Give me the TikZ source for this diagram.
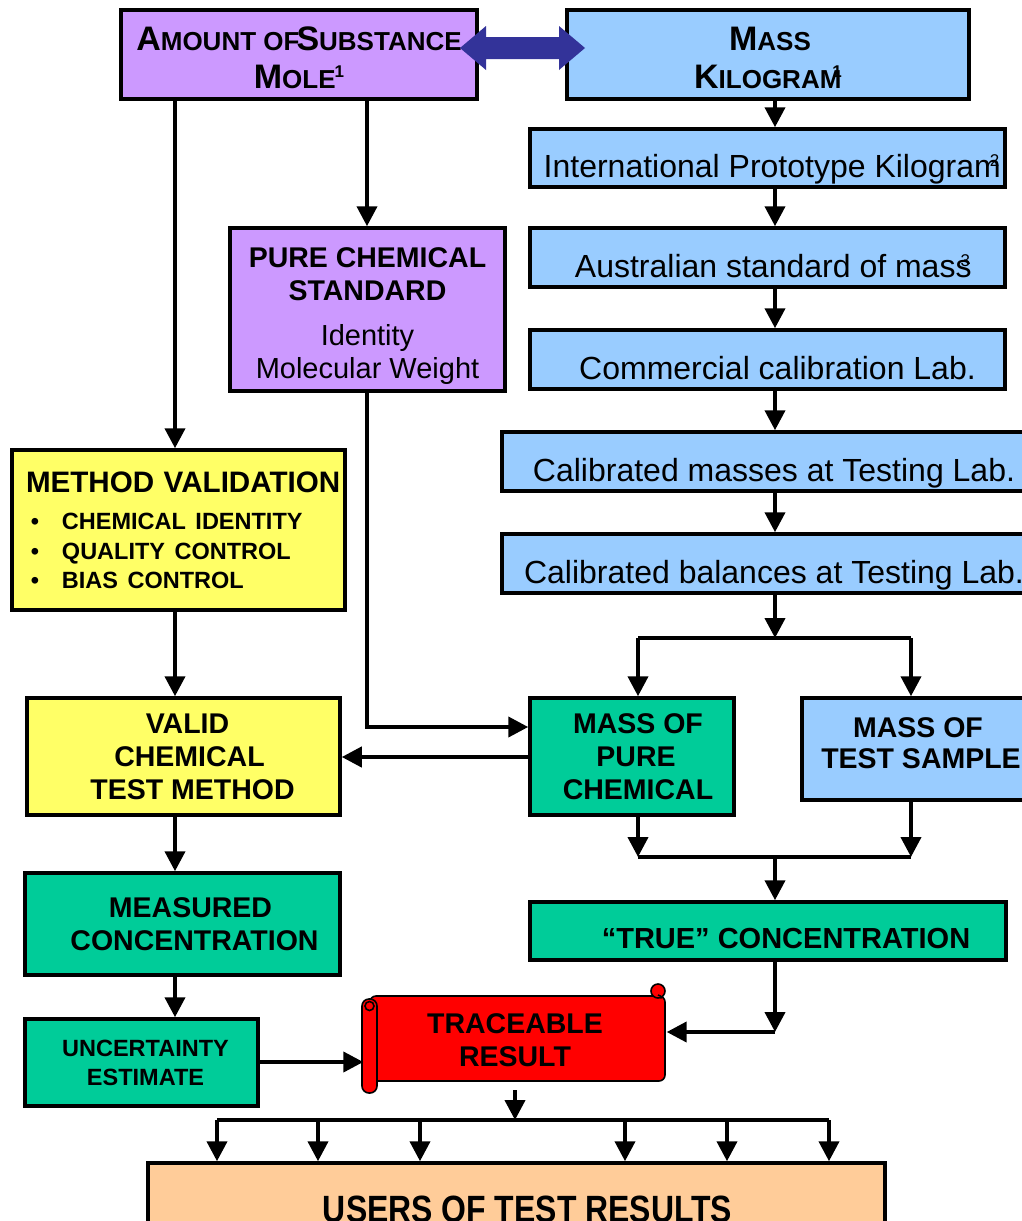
\documentclass[tikz,border=0pt]{standalone}
\usepackage{fontspec}
\setmainfont{Liberation Sans}
\usetikzlibrary{arrows.meta,calc}
\definecolor{purp}{HTML}{CC99FF}
\definecolor{lblue}{HTML}{99CCFF}
\definecolor{yel}{HTML}{FFFF66}
\definecolor{grn}{HTML}{00CC99}
\definecolor{peach}{HTML}{FFCC99}
\definecolor{dblue}{HTML}{333399}
\newcommand\capL[1]{{\fontsize{34}{38}\selectfont #1}}
\newcommand\supn[1]{\raisebox{11pt}{\fontsize{17}{17}\selectfont #1}}
\newcommand\bigbf{\fontsize{28.5}{33}\selectfont\bfseries}
\newcommand\bulbf{\fontsize{23.5}{29.5}\selectfont\bfseries}
\newcommand\regtx{\fontsize{29}{33}\selectfont\mdseries}
\newcommand\bul{\makebox[36pt][l]{\hspace{5pt}\textbullet}}
\begin{document}
\begin{tikzpicture}[x=1pt,y=-1pt,
  box/.style={draw=black, line width=3.5pt, inner sep=0pt, align=center, text=black},
  bfs/.style={font=\bigbf},
  rgs/.style={font=\fontsize{32}{35}\selectfont},
  bline/.style={text height=#1, text depth=0pt},
  arr/.style={line width=4pt, -{Triangle[length=20pt,width=20pt]}},
  ln/.style={line width=4pt}]
\clip (0,0) rectangle (1022,1221);
\fill[white] (0,0) rectangle (1022,1221);

% coordinates for connector lanes
\coordinate (xL) at (175,0);
\coordinate (xM) at (367,0);
\coordinate (xR) at (775,0);
\coordinate (xP) at (638,0);
\coordinate (xS) at (911,0);
\coordinate (yA) at (0,727);
\coordinate (yB) at (0,757);
\coordinate (yF) at (0,638);
\coordinate (yJ) at (0,857);
\coordinate (yT) at (0,1032);
\coordinate (yU) at (0,1062);
\coordinate (yV) at (0,1120);

% boxes
\node[box, fill=purp, minimum width=356pt, minimum height=89pt,
  font=\fontsize{26}{38}\selectfont\bfseries] (amount) at (299,54.5)
  {\rule{0pt}{31pt}\capL{A}MOUNT OF\hspace{-3pt}\capL{S}UBSTANCE\\\capL{M}OLE\hspace{-1pt}\supn{1}};
\node[box, fill=lblue, minimum width=402pt, minimum height=89pt,
  font=\fontsize{26}{38}\selectfont\bfseries] (mass) at (768,54.5)
  {\rule{0pt}{31pt}\hspace*{4pt}\capL{M}ASS\\\capL{K}ILOGRAM\hspace{-9pt}\supn{1}};
\node[box, fill=lblue, rgs, minimum width=475pt, minimum height=58pt, bline=38pt] (ipk) at (767.5,158)
  {\hspace*{8pt}International Prototype Kilogram\hspace{-11pt}\supn{2}};
\node[box, fill=lblue, rgs, minimum width=475pt, minimum height=59pt, bline=39pt] (aus) at (767.5,257.5)
  {\hspace*{10pt}Australian standard of mass\hspace{-11pt}\supn{3}};
\node[box, fill=lblue, rgs, minimum width=475pt, minimum height=59pt, bline=39pt] (comm) at (767.5,359.5)
  {\hspace*{20pt}Commercial calibration Lab.};
\node[box, fill=lblue, rgs, minimum width=544pt, minimum height=59pt, bline=39pt] (calmass) at (774,461.5)
  {Calibrated masses at Testing Lab.};
\node[box, fill=lblue, rgs, minimum width=544pt, minimum height=59pt, bline=39pt] (calbal) at (774,563.5)
  {Calibrated balances at Testing Lab.};

\node[box, fill=purp, bfs, minimum width=275pt, minimum height=163pt] (pure) at (367.5,309.5)
  {\rule{0pt}{34pt}PURE CHEMICAL\\STANDARD\\[12pt]\regtx Identity\\\regtx Molecular Weight};

\node[box, fill=yel, bfs, minimum width=333pt, minimum height=160pt, text width=305pt, align=left] (method) at (178.5,530)
  {\mbox{\fontsize{29.6}{33}\selectfont METHOD VALIDATION}\\[8pt]
   \bulbf\bul CHEMICAL IDENTITY\\
   \bulbf\bul QUALITY CONTROL\\[-4pt]
   \bulbf\bul BIAS CONTROL};

\node[box, fill=yel, bfs, minimum width=313pt, minimum height=117pt] (valid) at (183.5,756.5)
  {\hspace*{8pt}VALID\\\hspace*{12pt}CHEMICAL\\\hspace*{18pt}TEST METHOD};
\node[box, fill=grn, bfs, minimum width=204pt, minimum height=117pt] (masspure) at (632,756.5)
  {\hspace*{12pt}MASS OF\\\hspace*{8pt}PURE\\\hspace*{12pt}CHEMICAL};
\node[box, fill=lblue, minimum width=238pt, minimum height=102pt,
  font=\fontsize{28.5}{31}\selectfont\bfseries] (masstest) at (921,749)
  {\hspace*{-6pt}MASS OF\\TEST SAMPLE\rule[-11pt]{0pt}{11pt}};
\node[box, fill=grn, minimum width=476pt, minimum height=58pt, bline=34pt,
  font=\fontsize{29}{33}\selectfont\bfseries] (true) at (768,931)
  {\hspace*{36pt}“TRUE” CONCENTRATION};
\node[box, fill=grn, bfs, minimum width=315pt, minimum height=102pt] (measured) at (182.5,924)
  {\hspace*{16pt}MEASURED\\\hspace*{24pt}CONCENTRATION};
\node[box, fill=grn, minimum width=233pt, minimum height=87pt,
  font=\fontsize{23.5}{29}\selectfont\bfseries] (uncert) at (141.5,1062.5)
  {\hspace*{8pt}UNCERTAINTY\\\hspace*{8pt}ESTIMATE};
\node[box, fill=peach, minimum width=737pt, minimum height=97pt, bline=22pt,
  font=\fontsize{38}{40}\selectfont\bfseries] (users) at (516.5,1211.5)
  {\hspace*{22pt}\scalebox{0.84}[1]{USERS OF TEST RESULTS}};

% scroll for traceable result
\begin{scope}[line width=1.6pt, draw=black]
  \filldraw[fill=red, rounded corners=6pt] (370,996) rectangle (665,1081);
  \filldraw[fill=red] (658,991) circle (7);
  \draw (658,991) ++(0,4) arc (-90:0:3.5);
  \filldraw[fill=red, rounded corners=7pt] (362,999) rectangle (377,1093);
  \draw (369.5,1006) circle (4.5);
\end{scope}
\node[bfs, inner sep=0pt, align=center, minimum width=303pt, minimum height=100pt] (trace) at (515,1040)
  {TRACEABLE\\RESULT};

% double block arrow between amount and mass
\coordinate (dbl) at (523,48);
\fill[dblue] ($(dbl)+(-63,0)$) -- ($(dbl)+(-37,-22)$) -- ($(dbl)+(-37,-11)$) -- ($(dbl)+(36,-11)$)
  -- ($(dbl)+(36,-22)$) -- ($(dbl)+(62,0)$) -- ($(dbl)+(36,22)$) -- ($(dbl)+(36,11)$)
  -- ($(dbl)+(-37,11)$) -- ($(dbl)+(-37,22)$) -- cycle;

% left column
\draw[arr] (amount.south -| xL) -- (method.north -| xL);
\draw[arr] (method.south -| xL) -- (valid.north -| xL);
\draw[arr] (valid.south -| xL) -- (measured.north -| xL);
\draw[arr] (measured.south -| xL) -- (uncert.north -| xL);
% middle
\draw[arr] (amount.south -| xM) -- (pure.north -| xM);
\draw[arr] (pure.south -| xM) -- (xM |- yA) -- (masspure.west |- yA);
\draw[arr] (masspure.west |- yB) -- (valid.east |- yB);
% right chain
\draw[arr] (mass.south -| xR) -- (ipk.north -| xR);
\draw[arr] (ipk.south -| xR) -- (aus.north -| xR);
\draw[arr] (aus.south -| xR) -- (comm.north -| xR);
\draw[arr] (comm.south -| xR) -- (calmass.north -| xR);
\draw[arr] (calmass.south -| xR) -- (calbal.north -| xR);
\draw[arr] (calbal.south -| xR) -- (xR |- yF);
\draw[ln] (xP |- yF) -- (xS |- yF);
\draw[arr] (xP |- yF) -- (masspure.north -| xP);
\draw[arr] (xS |- yF) -- (masstest.north -| xS);
\draw[arr] (masspure.south -| xP) -- (xP |- yJ);
\draw[arr] (masstest.south -| xS) -- (xS |- yJ);
\draw[ln] (xP |- yJ) -- (xS |- yJ);
\draw[arr] (xR |- yJ) -- (true.north -| xR);
\draw[arr] (true.south -| xR) -- (xR |- yT);
\draw[arr] (xR |- yT) -- (trace.east |- yT);
\draw[arr] (uncert.east |- yU) -- (trace.west |- yU);
% fan out to users
\coordinate (f1) at (217,0);
\coordinate (f2) at (318,0);
\coordinate (f3) at (420,0);
\coordinate (f4) at (625,0);
\coordinate (f5) at (727,0);
\coordinate (f6) at (829,0);
\draw[arr] (trace.south) -- (trace.south |- yV);
\draw[ln] (f1 |- yV) -- (f6 |- yV);
\foreach \f in {f1,f2,f3,f4,f5,f6}
  \draw[arr] (\f |- yV) -- (users.north -| \f);
\end{tikzpicture}
\end{document}
